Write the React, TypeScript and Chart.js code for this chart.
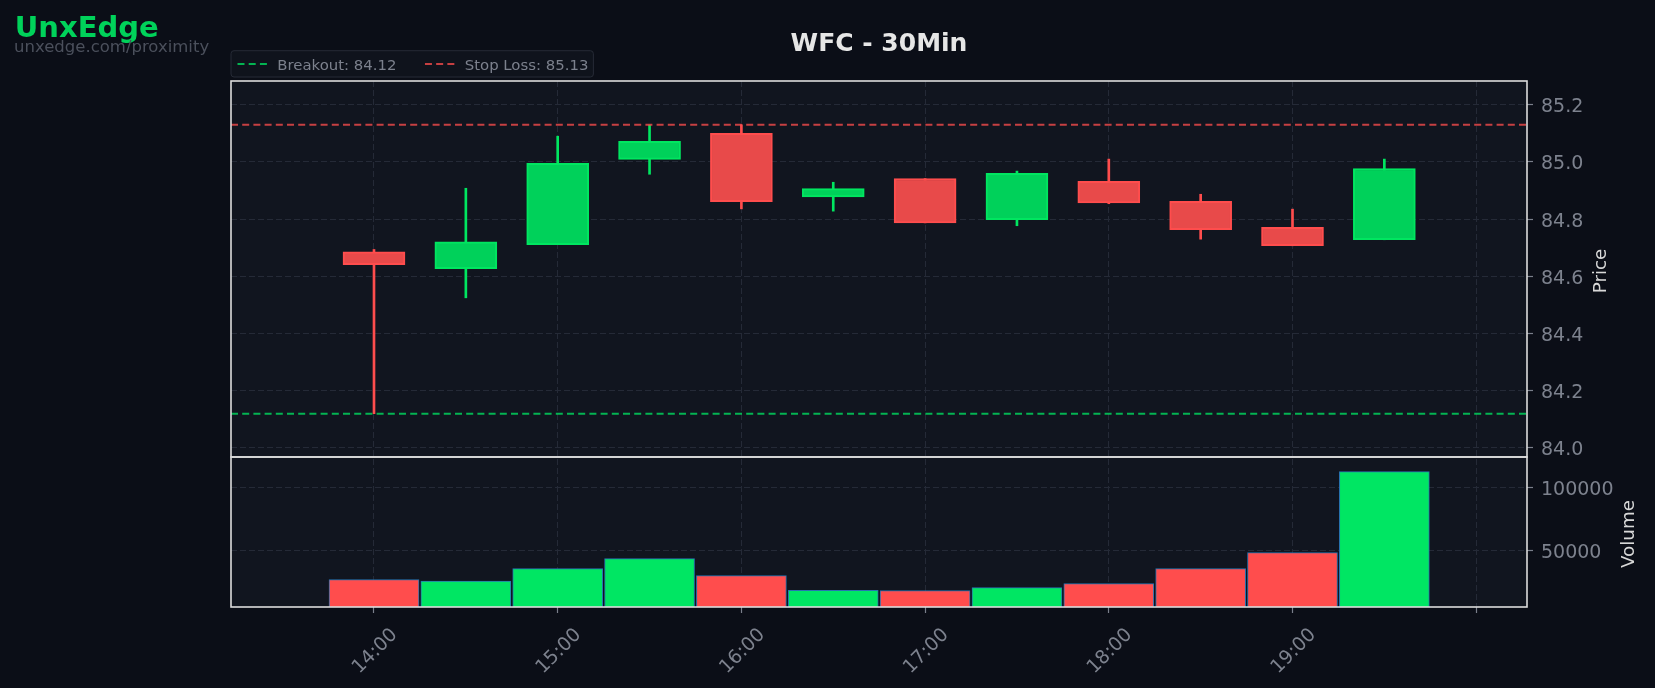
import React, { useEffect, useRef } from 'react';
import { Chart, registerables } from 'chart.js';

Chart.register(...registerables);

// ---------------- data ----------------
const TIMES = ['14:00', '14:30', '15:00', '15:30', '16:00', '16:30', '17:00', '17:30', '18:00', '18:30', '19:00', '19:30'];
const OPEN = [84.686, 84.627, 84.711, 85.009, 85.1, 84.878, 84.942, 84.798, 84.932, 84.862, 84.771, 84.728];
const HIGH = [84.694, 84.908, 85.09, 85.129, 85.13, 84.929, 84.942, 84.968, 85.01, 84.887, 84.835, 85.01];
const LOW = [84.12, 84.525, 84.711, 84.957, 84.836, 84.828, 84.787, 84.777, 84.854, 84.73, 84.707, 84.728];
const CLOSE = [84.641, 84.721, 84.995, 85.072, 84.861, 84.907, 84.787, 84.96, 84.857, 84.763, 84.707, 84.977];
const VOLUME = [27500, 26400, 36100, 44000, 30600, 19100, 18900, 21200, 24300, 36100, 48700, 112300];

const BREAKOUT = 84.12;
const STOP_LOSS = 85.13;

const X_TICKS = [14, 15, 16, 17, 18, 19, 20];
const X_TICK_LABELS = ['14:00', '15:00', '16:00', '17:00', '18:00', '19:00', ''];
const PRICE_TICKS = [84.0, 84.2, 84.4, 84.6, 84.8, 85.0, 85.2];
const VOLUME_TICKS = [50000, 100000];

const TITLE = 'WFC - 30Min';
const BRAND = 'UnxEdge';
const BRAND_URL = 'unxedge.com/proximity';
const PRICE_LABEL = 'Price';
const VOLUME_LABEL = 'Volume';

// axis ranges
const X_MIN = 13.2216;
const X_MAX = 20.2765;
const PRICE_MIN = 83.9685;
const PRICE_MAX = 85.283;
const VOL_MIN = 6000;
const VOL_MAX = 123800;

// ---------------- styles ----------------
const FONT = "'DejaVu Sans', sans-serif";
const PAGE_BG = '#0b0e17';
const PANEL_BG = '#11151f';
const FRAME = '#dcdcdc';
const GRID = '#252a37';
const TICK = '#7a7f8b';
const TICK_LABEL = '#7d828e';
const AXIS_TITLE = '#d8d8d8';
const UP_FILL = '#00d15a';
const UP_EDGE = '#00e660';
const DOWN_FILL = '#e84a4a';
const DOWN_EDGE = '#ff4d4d';
const VOL_UP = '#00e663';
const VOL_DOWN = '#ff4d4d';
const VOL_EDGE = '#2874b2';
const BREAKOUT_COLOR = 'rgba(0,230,99,0.76)';
const STOP_COLOR = 'rgba(255,77,77,0.76)';
const LINE_DASH = [7, 4.2];

const toHours = (t: string) => {
  const [h, m] = t.split(':').map(Number);
  return h + m / 60;
};

const decorPlugin = {
  id: 'decor',
  beforeDraw(chart: any) {
    const { ctx, chartArea: ca } = chart;
    ctx.save();
    ctx.fillStyle = PAGE_BG;
    ctx.fillRect(0, 0, chart.width, chart.height);
    ctx.fillStyle = PANEL_BG;
    ctx.fillRect(ca.left, ca.top, ca.right - ca.left, ca.bottom - ca.top);
    ctx.restore();
  },
  afterDatasetsDraw(chart: any) {
    const { ctx, chartArea: ca, scales } = chart;
    const py = scales.y;
    const vy = scales.vol;
    ctx.save();
    // panel frames
    ctx.strokeStyle = FRAME;
    ctx.lineWidth = 1.6;
    ctx.strokeRect(ca.left, py.top, ca.right - ca.left, py.bottom - py.top);
    ctx.strokeRect(ca.left, vy.top, ca.right - ca.left, vy.bottom - vy.top);

    // axis titles (reading bottom to top)
    ctx.fillStyle = AXIS_TITLE;
    ctx.font = `18.3px ${FONT}`;
    ctx.textAlign = 'center';
    ctx.textBaseline = 'middle';
    const drawRot = (text: string, x: number, y: number) => {
      ctx.save();
      ctx.translate(x, y);
      ctx.rotate(-Math.PI / 2);
      ctx.fillText(text, 0, 0);
      ctx.restore();
    };
    drawRot(PRICE_LABEL, ca.right + 74.5, (py.top + py.bottom) / 2 + 2);
    drawRot(VOLUME_LABEL, ca.right + 102, (vy.top + vy.bottom) / 2 + 2);

    // legend
    const items = chart.data.datasets.filter((d: any) => d.type === 'line');
    const boxLeft = ca.left;
    const boxTop = ca.top - 30.3;
    const boxH = 26.3;
    ctx.font = `14.9px ${FONT}`;
    ctx.textAlign = 'left';
    ctx.textBaseline = 'alphabetic';
    let x = boxLeft + 6.5;
    const layout: any[] = [];
    items.forEach((d: any, i: number) => {
      const w = ctx.measureText(d.label).width;
      layout.push({ d, iconX: x, textX: x + 39.8, w });
      x = x + 39.8 + w + (i < items.length - 1 ? 28.5 : 0);
    });
    const boxW = x + 5 - boxLeft;
    ctx.beginPath();
    if (ctx.roundRect) ctx.roundRect(boxLeft, boxTop, boxW, boxH, 3);
    else ctx.rect(boxLeft, boxTop, boxW, boxH);
    ctx.fillStyle = '#0f131c';
    ctx.fill();
    ctx.strokeStyle = '#262b36';
    ctx.lineWidth = 1;
    ctx.stroke();
    const midY = boxTop + 13.3;
    layout.forEach((it) => {
      ctx.save();
      ctx.strokeStyle = it.d.borderColor;
      ctx.lineWidth = 2;
      ctx.setLineDash(LINE_DASH);
      ctx.beginPath();
      ctx.moveTo(it.iconX, midY);
      ctx.lineTo(it.iconX + 29.4, midY);
      ctx.stroke();
      ctx.restore();
      ctx.fillStyle = '#7c818d';
      ctx.fillText(it.d.label, it.textX, boxTop + 19.2);
    });

    // brand
    ctx.fillStyle = '#00d25a';
    ctx.font = `bold 29px ${FONT}`;
    ctx.fillText(BRAND, 14.8, 36.8);
    ctx.fillStyle = '#4b505c';
    ctx.font = `16.5px ${FONT}`;
    ctx.fillText(BRAND_URL, 14, 51.5);
    ctx.restore();
  },
};

export default function App() {
  const canvasRef = useRef<HTMLCanvasElement | null>(null);

  useEffect(() => {
    if (!canvasRef.current) return;
    Chart.defaults.font.family = FONT;
    const xs = TIMES.map(toHours);
    const up = xs.map((_, i) => CLOSE[i] >= OPEN[i]);

    const gridCommon = {
      color: GRID,
      lineWidth: 1,
      drawTicks: true,
      tickLength: 6,
      tickColor: TICK,
      tickWidth: 1.2,
      tickBorderDash: [],
      borderDash: [6, 3],
      offset: false,
    };

    const chart = new Chart(canvasRef.current, {
      type: 'bar',
      data: {
        datasets: [
          {
            type: 'line',
            label: `Breakout: ${BREAKOUT.toFixed(2)}`,
            data: [
              { x: X_MIN, y: BREAKOUT },
              { x: X_MAX, y: BREAKOUT },
            ],
            yAxisID: 'y',
            borderColor: BREAKOUT_COLOR,
            borderWidth: 2,
            borderDash: LINE_DASH,
            pointRadius: 0,
            order: 0,
          },
          {
            type: 'line',
            label: `Stop Loss: ${STOP_LOSS.toFixed(2)}`,
            data: [
              { x: X_MIN, y: STOP_LOSS },
              { x: X_MAX, y: STOP_LOSS },
            ],
            yAxisID: 'y',
            borderColor: STOP_COLOR,
            borderWidth: 2,
            borderDash: LINE_DASH,
            pointRadius: 0,
            order: 0,
          },
          {
            type: 'bar',
            label: 'Body',
            data: xs.map((x, i) => ({ x, y: [OPEN[i], CLOSE[i]] })),
            yAxisID: 'y',
            barThickness: 62,
            backgroundColor: up.map((u) => (u ? UP_FILL : DOWN_FILL)),
            borderColor: up.map((u) => (u ? UP_EDGE : DOWN_EDGE)),
            borderWidth: 2,
            borderSkipped: false,
            grouped: false,
            order: 1,
          },
          {
            type: 'bar',
            label: 'Wick',
            data: xs.map((x, i) => ({ x, y: [LOW[i], HIGH[i]] })),
            yAxisID: 'y',
            barThickness: 2,
            backgroundColor: up.map((u) => (u ? UP_EDGE : DOWN_EDGE)),
            borderWidth: 0,
            grouped: false,
            order: 2,
          },
          {
            type: 'bar',
            label: 'Volume',
            data: xs.map((x, i) => ({ x, y: VOLUME[i] })),
            yAxisID: 'vol',
            barThickness: 90,
            backgroundColor: up.map((u) => (u ? VOL_UP : VOL_DOWN)),
            borderColor: VOL_EDGE,
            borderWidth: 1,
            borderSkipped: false,
            grouped: false,
            order: 3,
          },
        ],
      } as any,
      options: {
        responsive: false,
        maintainAspectRatio: false,
        animation: false,
        events: [],
        layout: { padding: { left: 231, right: 0, top: 0, bottom: 0 } },
        plugins: {
          legend: { display: false },
          tooltip: { enabled: false },
          title: {
            display: true,
            text: TITLE,
            color: '#e6e6e6',
            fullSize: false,
            font: { size: 25, weight: 'bold', family: FONT },
            padding: { top: 29.6, bottom: 21.4 },
          },
        },
        scales: {
          x: {
            type: 'linear',
            position: 'bottom',
            min: X_MIN,
            max: X_MAX,
            offset: false,
            afterBuildTicks: (s: any) => {
              s.ticks = X_TICKS.map((v) => ({ value: v }));
            },
            afterFit: (s: any) => {
              s.height = 81;
            },
            grid: gridCommon,
            border: { display: false, dash: [6, 3] },
            ticks: {
              autoSkip: false,
              minRotation: 45,
              maxRotation: 45,
              padding: 11,
              labelOffset: 20.6,
              color: TICK_LABEL,
              font: { size: 19, family: FONT },
              callback: (_v: any, i: number) => X_TICK_LABELS[i] ?? '',
            },
          },
          y: {
            type: 'linear',
            position: 'right',
            stack: 'panels',
            stackWeight: 376,
            min: PRICE_MIN,
            max: PRICE_MAX,
            beginAtZero: false,
            afterBuildTicks: (s: any) => {
              s.ticks = PRICE_TICKS.map((v) => ({ value: v }));
            },
            afterFit: (s: any) => {
              s.width = 128;
            },
            grid: gridCommon,
            border: { display: false, dash: [6, 3] },
            ticks: {
              padding: 8,
              labelOffset: 2.5,
              color: TICK_LABEL,
              font: { size: 19, family: FONT },
              callback: (v: any) => Number(v).toFixed(1),
            },
          },
          vol: {
            type: 'linear',
            position: 'right',
            stack: 'panels',
            stackWeight: 150,
            min: VOL_MIN,
            max: VOL_MAX,
            beginAtZero: false,
            afterBuildTicks: (s: any) => {
              s.ticks = VOLUME_TICKS.map((v) => ({ value: v }));
            },
            afterFit: (s: any) => {
              s.width = 128;
            },
            grid: gridCommon,
            border: { display: false, dash: [6, 3] },
            ticks: {
              padding: 8,
              labelOffset: 2.5,
              color: TICK_LABEL,
              font: { size: 19, family: FONT },
              callback: (v: any) => String(Math.round(Number(v))),
            },
          },
        },
      } as any,
      plugins: [decorPlugin],
    });

    return () => chart.destroy();
  }, []);

  return (
    <div
      style={{
        position: 'fixed',
        left: 0,
        top: 0,
        width: 1655,
        height: 688,
        background: PAGE_BG,
      }}
    >
      <canvas ref={canvasRef} width={1655} height={688} style={{ display: 'block' }} />
    </div>
  );
}
